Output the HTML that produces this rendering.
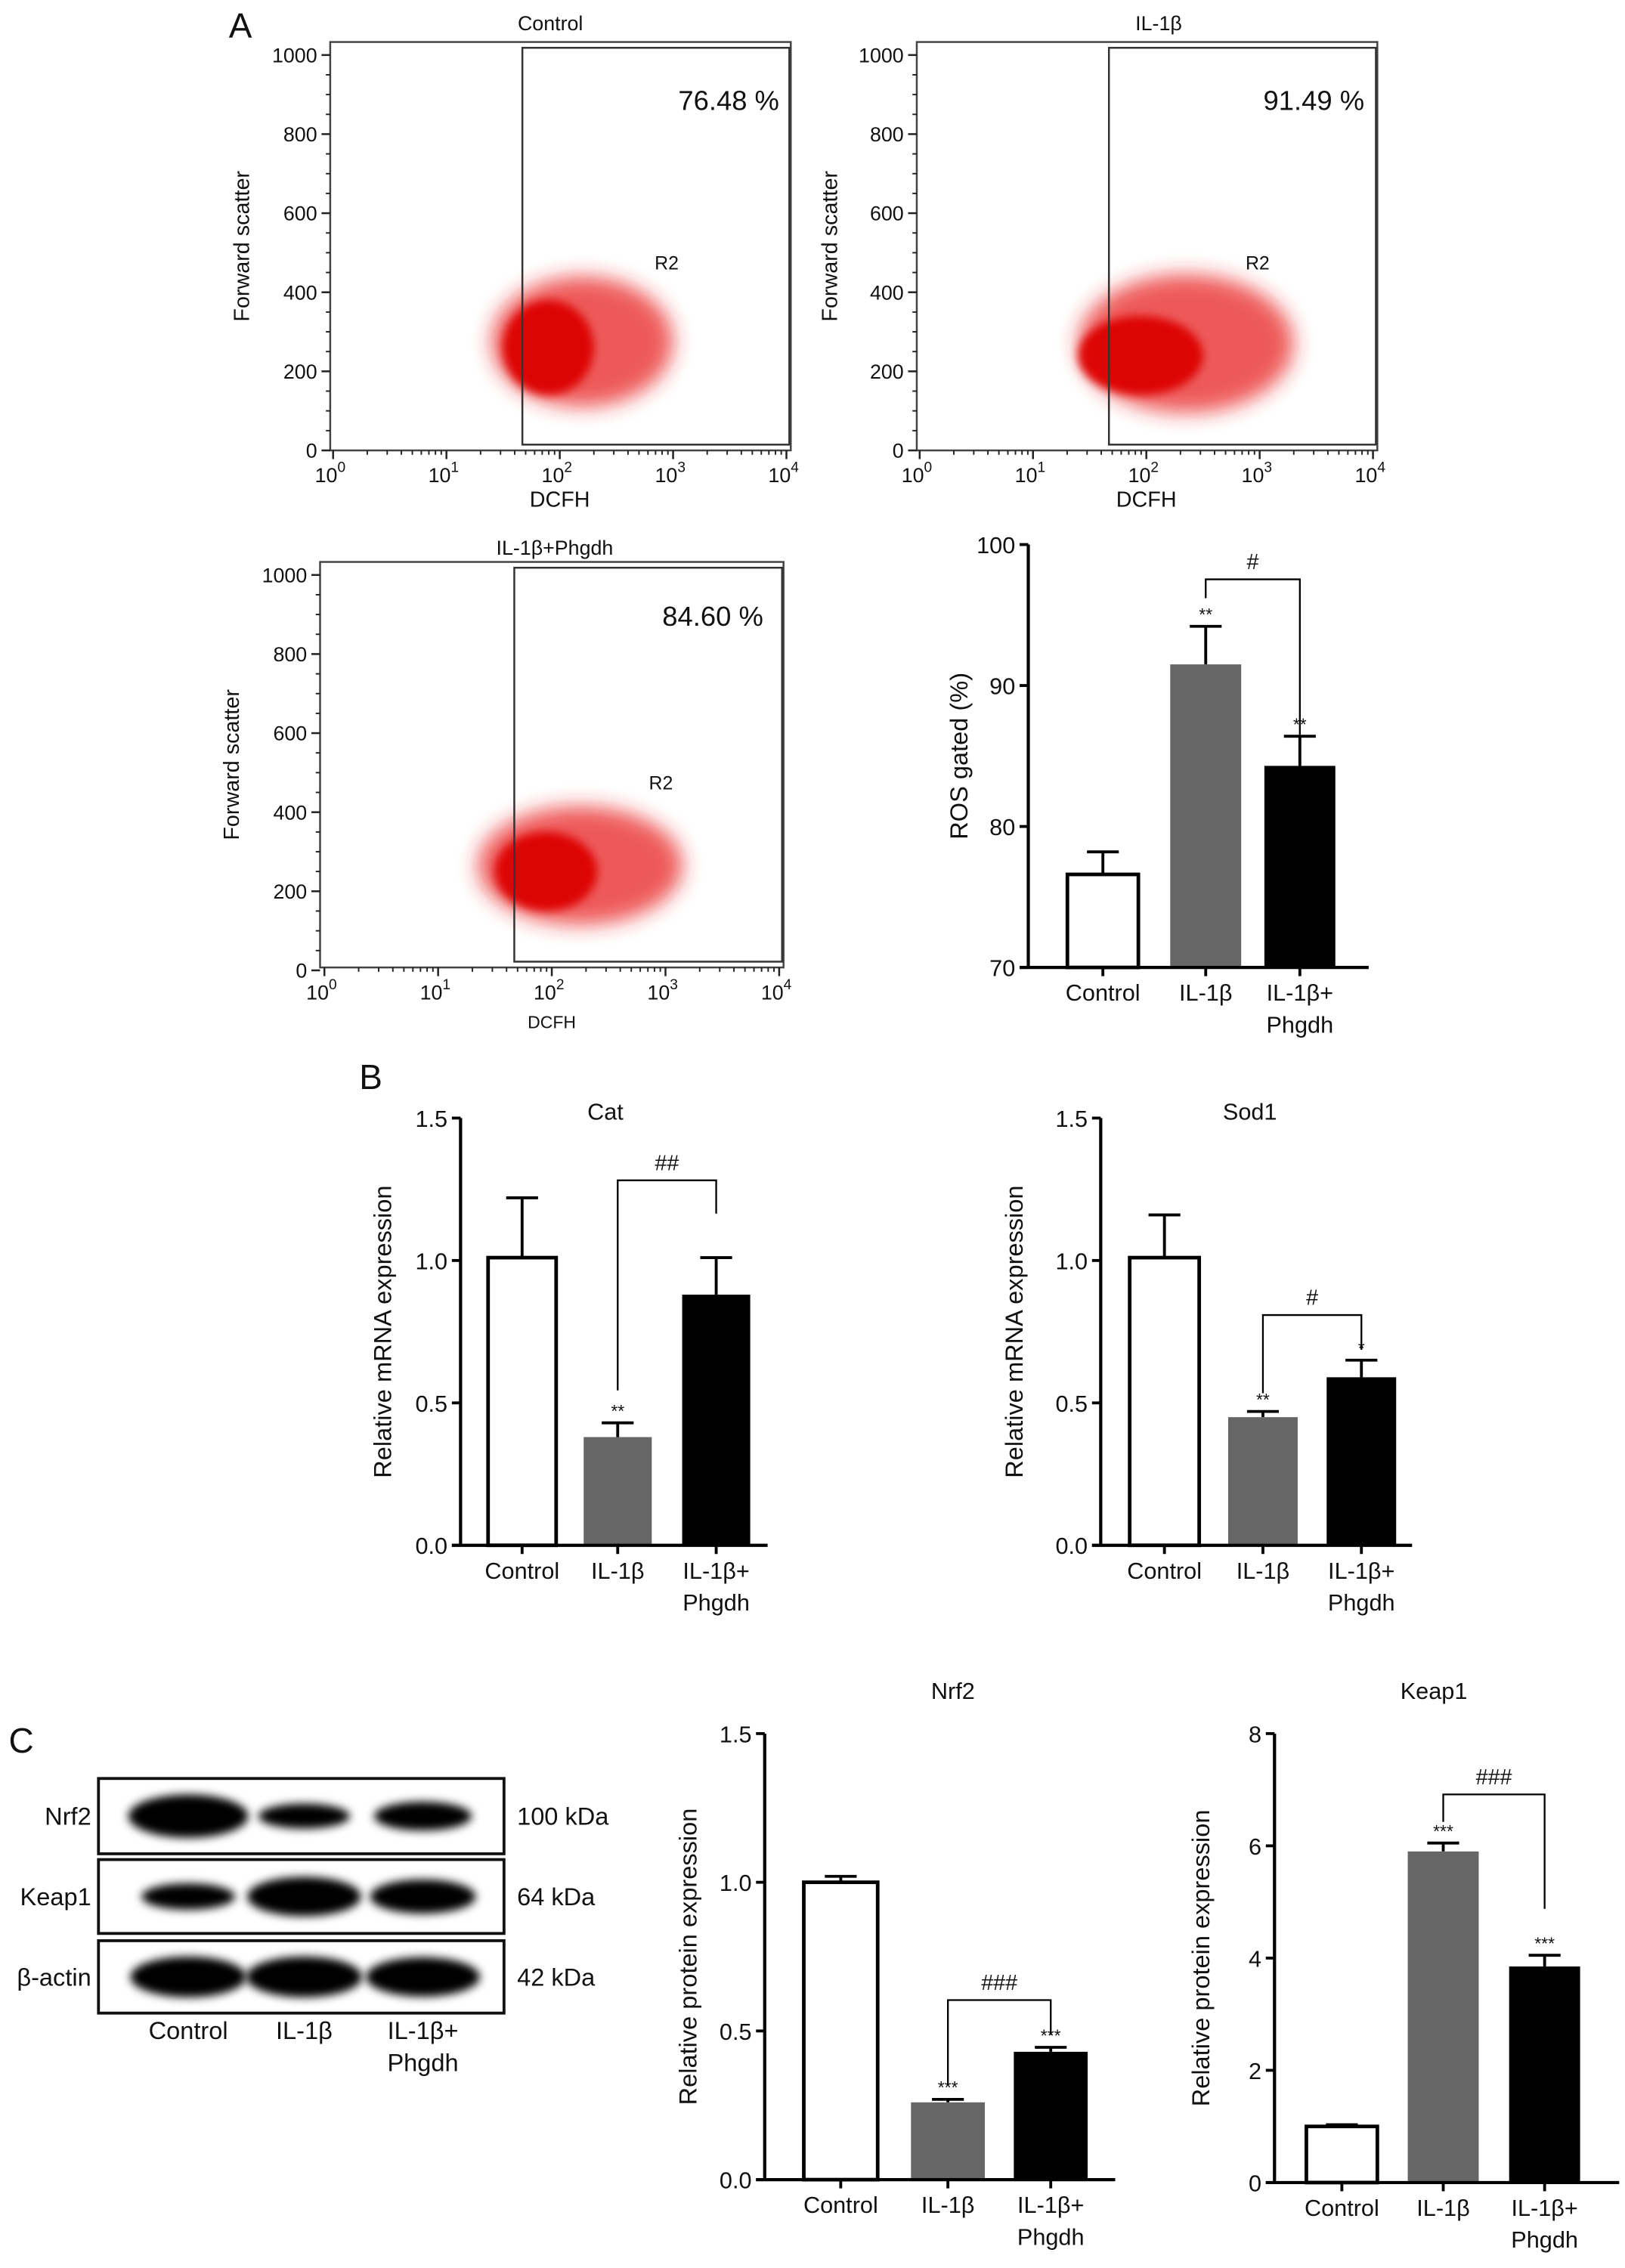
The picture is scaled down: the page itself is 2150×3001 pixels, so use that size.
<!DOCTYPE html>
<html><head><meta charset="utf-8"><style>
html,body{margin:0;padding:0;background:#fff}
svg{display:block}
text{font-family:"Liberation Sans","DejaVu Sans",sans-serif;fill:#111}
</style></head><body>
<svg id="fig" xmlns="http://www.w3.org/2000/svg" width="2150" height="3001" viewBox="0 0 1122 1566" preserveAspectRatio="none">
<defs>
<filter id="blur2" x="-50%" y="-50%" width="200%" height="200%"><feGaussianBlur stdDeviation="7"/></filter>
<filter id="blur1" x="-50%" y="-50%" width="200%" height="200%"><feGaussianBlur stdDeviation="3"/></filter>
</defs>
<g id="root"></g>
</svg>
<script>
// ---------- Flow cytometry panel data ----------
const flowTitles = ["Control", "IL-1β", "IL-1β+Phgdh"];
const flowPercents = ["76.48 %", "91.49 %", "84.60 %"];
const flowYTicks = [0, 200, 400, 600, 800, 1000];
const flowXExps = [0, 1, 2, 3, 4];
const flowGateLog = [1.67, 1.67, 1.67];
// cloud: [log10 center x, y center, log spread x, y spread]
const flowCloudCore = [[1.9, 260, 0.4, 120], [1.95, 240, 0.55, 100], [1.95, 250, 0.45, 100]];
const flowCloudWide = [[2.2, 275, 0.8, 165], [2.35, 270, 0.95, 175], [2.25, 265, 0.9, 150]];

// ---------- Bar chart data ----------
const groups = ["Control", "IL-1β", "IL-1β+"];
const rosValues = [76.6, 91.5, 84.3];
const rosErrors = [1.6, 2.7, 2.1];
const rosTicks = [70, 80, 90, 100];
const catValues = [1.01, 0.38, 0.88];
const catErrors = [0.21, 0.05, 0.13];
const sodValues = [1.01, 0.45, 0.59];
const sodErrors = [0.15, 0.02, 0.06];
const mrnaTicks = [0.0, 0.5, 1.0, 1.5];
const nrf2Values = [1.0, 0.26, 0.43];
const nrf2Errors = [0.02, 0.01, 0.015];
const keap1Values = [1.0, 5.9, 3.85];
const keap1Errors = [0.03, 0.15, 0.2];
const keap1Ticks = [0, 2, 4, 6, 8];
const rosStars = ["", "**", "**"];
const catStars = ["", "**", ""];
const sodStars = ["", "**", "*"];
const protStars = ["", "***", "***"];

const NS = "http://www.w3.org/2000/svg";
const root = document.getElementById("root");
function el(tag, attrs, parent, txt) {
  const e = document.createElementNS(NS, tag);
  for (const k in attrs) e.setAttribute(k, attrs[k]);
  if (txt !== undefined) e.textContent = txt;
  (parent || root).appendChild(e);
  return e;
}

// ---------- Flow plots ----------
const flowLayouts = [
  {fx0:228, fx1:546, fy0:29, fy1:311, ax0:230, ax1:543, ay0:311, ay1:38, titleY:16, titleX:380, yTitleX:172, dcfhY:350, dcfhSize:15, pctX:538, pctY:76, r2:[452,186]},
  {fx0:633, fx1:951, fy0:29, fy1:311, ax0:635, ax1:948, ay0:311, ay1:38, titleX:800, titleY:16, yTitleX:578, dcfhY:350, dcfhSize:15, pctX:942, pctY:76, r2:[860,186]},
  {fx0:221, fx1:541, fy0:388, fy1:668, ax0:224, ax1:538, ay0:670, ay1:397, titleX:383, titleY:378, yTitleX:165, dcfhY:710, dcfhSize:12, pctX:527, pctY:432, r2:[448,545]}
];
flowLayouts.forEach((L, i) => {
  const g = el("g", {});
  
  
  const sx = v => L.ax0 + (L.ax1 - L.ax0) * v / 4;
  const sy = v => L.ay0 + (L.ay1 - L.ay0) * v / 1000;
  el("rect", {x:L.fx0, y:L.fy0, width:L.fx1-L.fx0, height:L.fy1-L.fy0, fill:"#fff", stroke:"#444", "stroke-width":1.3}, g);
  const w = flowCloudWide[i], c = flowCloudCore[i];
  const wc = el("ellipse", {cx:sx(w[0]), cy:sy(w[1]), rx:(sx(w[2])-sx(0)), ry:Math.abs(sy(w[3])-sy(0)), fill:"#e82020", opacity:0.75, filter:"url(#blur2)"}, g);
  
  const cc = el("ellipse", {cx:sx(c[0]), cy:sy(c[1]), rx:(sx(c[2])-sx(0)), ry:Math.abs(sy(c[3])-sy(0)), fill:"#dd0000", opacity:0.95, filter:"url(#blur1)"}, g);
  
  const gx = sx(flowGateLog[i]);
  const gate = el("rect", {x:gx, y:L.fy0+4, width:L.fx1-1-gx, height:L.fy1-L.fy0-8, fill:"none", stroke:"#333", "stroke-width":1.3}, g);
  
  el("text", {x:L.r2[0], y:L.r2[1], "font-size":13, fill:"#555"}, g, "R2");
  const pt = el("text", {x:L.pctX, y:L.pctY, "font-size":19, "text-anchor":"end", fill:"#333"}, g, flowPercents[i]);
  
  const tt = el("text", {x:L.titleX, y:L.titleY+5, "font-size":14, "text-anchor":"middle"}, g, flowTitles[i]);
  
  flowYTicks.forEach(t => {
    el("line", {x1:L.fx0-6, x2:L.fx0, y1:sy(t), y2:sy(t), stroke:"#222", "stroke-width":1.3}, g);
    el("text", {x:L.fx0-9, y:sy(t)+5, "font-size":14, "text-anchor":"end"}, g, String(t));
  });
  for (let t = 50; t < 1000; t += 50) if (t % 200) el("line", {x1:L.fx0-3, x2:L.fx0, y1:sy(t), y2:sy(t), stroke:"#222", "stroke-width":1}, g);
  flowXExps.forEach(e => {
    el("line", {x1:sx(e), x2:sx(e), y1:L.fy1, y2:L.fy1+6, stroke:"#222", "stroke-width":1.3}, g);
    const tx = el("text", {x:sx(e)-2, y:L.fy1+22, "font-size":14, "text-anchor":"middle"}, g, "10");
    el("tspan", {dy:-7, "font-size":10}, tx, String(e));
    if (e < 4) for (let m = 2; m < 10; m++) {
      const xx = sx(e + Math.log10(m));
      el("line", {x1:xx, x2:xx, y1:L.fy1, y2:L.fy1+3, stroke:"#222", "stroke-width":1}, g);
    }
  });
  el("text", {x:(L.ax0+L.ax1)/2, y:L.dcfhY, "font-size":L.dcfhSize, "text-anchor":"middle"}, g, "DCFH");
  const cy = (L.fy0+L.fy1)/2;
  el("text", {x:L.yTitleX, y:cy, "font-size":15, "text-anchor":"middle", transform:`rotate(-90 ${L.yTitleX} ${cy})`}, g, "Forward scatter");
});

// ---------- Bar charts ----------
function barChart(o) {
  const g = el("g", {});
  
  
  const sy = v => o.y0 + (o.y1 - o.y0) * (v - o.min) / (o.max - o.min);
  const fills = ["#fff", "#666", "#000"];
  o.values.forEach((v, i) => {
    const bx = o.bars[i];
    const top = sy(v + o.errors[i]);
    el("line", {x1:bx+o.bw/2, x2:bx+o.bw/2, y1:sy(v), y2:top, stroke:"#000", "stroke-width":2}, g);
    el("line", {x1:bx+o.bw/2-11, x2:bx+o.bw/2+11, y1:top, y2:top, stroke:"#000", "stroke-width":2}, g);
    const r = el("rect", {x:bx, y:sy(v), width:o.bw, height:o.y0-sy(v), fill:fills[i], stroke:i==0?"#000":fills[i], "stroke-width":i==0?2.5:0}, g);
    
    if (o.stars[i]) el("text", {x:bx+o.bw/2, y:top-4, "font-size":12, "text-anchor":"middle"}, g, o.stars[i]);
    el("line", {x1:bx+o.bw/2, x2:bx+o.bw/2, y1:o.y0, y2:o.y0+6, stroke:"#000", "stroke-width":2}, g);
    const lx = bx + o.bw/2;
    el("text", {x:lx, y:o.y0+23, "font-size":o.fs, "text-anchor":"middle"}, g, groups[i]);
    if (i == 2) el("text", {x:lx, y:o.y0+45, "font-size":o.fs, "text-anchor":"middle"}, g, "Phgdh");
  });
  el("line", {x1:o.ax, x2:o.ax, y1:o.y1, y2:o.y0, stroke:"#000", "stroke-width":2.2}, g);
  el("line", {x1:o.ax-6, x2:o.xEnd, y1:o.y0, y2:o.y0, stroke:"#000", "stroke-width":2.2}, g);
  o.ticks.forEach(t => {
    el("line", {x1:o.ax-6, x2:o.ax, y1:sy(t), y2:sy(t), stroke:"#000", "stroke-width":2}, g);
    el("text", {x:o.ax-9, y:sy(t)+6, "font-size":o.fs, "text-anchor":"end"}, g, o.fmt(t));
  });
  const cy = (o.y0 + o.y1) / 2;
  el("text", {x:o.ytx, y:cy, "font-size":17, "text-anchor":"middle", transform:`rotate(-90 ${o.ytx} ${cy})`}, g, o.ytitle);
  if (o.title) el("text", {x:o.titleX, y:o.titleY, "font-size":o.fs, "text-anchor":"middle"}, g, o.title);
  const b = o.bracket;
  const xl = o.bars[1]+o.bw/2, xr = o.bars[2]+o.bw/2;
  const br = el("path", {d:`M${xl} ${b.yl} V${b.y} H${xr} V${b.yr}`, fill:"none", stroke:"#000", "stroke-width":1.2}, g);
  
  el("text", {x:(xl+xr)/2, y:b.y-7, "font-size":15, "text-anchor":"middle"}, g, b.label);
}
const f1 = t => t.toFixed(1), f0 = t => String(t);
barChart({name:"ros-chart", values:rosValues, errors:rosErrors, ticks:rosTicks, stars:rosStars, min:70, max:100, y0:668, y1:376, ax:710, xEnd:945, bars:[737,808,873], bw:49, fs:16, fmt:f0, ytx:668, ytitle:"ROS gated (%)", bracket:{y:400, yl:413, yr:510, label:"#"}});
barChart({name:"cat-chart", values:catValues, errors:catErrors, ticks:mrnaTicks, stars:catStars, min:0, max:1.5, y0:1067, y1:772, ax:318, xEnd:530, bars:[337,403,471], bw:47, fs:16, fmt:f1, ytx:270, ytitle:"Relative mRNA expression", title:"Cat", titleX:418, titleY:773, bracket:{y:815, yl:960, yr:838, label:"##"}});
barChart({name:"sod1-chart", values:sodValues, errors:sodErrors, ticks:mrnaTicks, stars:sodStars, min:0, max:1.5, y0:1067, y1:772, ax:760, xEnd:975, bars:[780,848,916], bw:48, fs:16, fmt:f1, ytx:706, ytitle:"Relative mRNA expression", title:"Sod1", titleX:863, titleY:773, bracket:{y:908, yl:962, yr:932, label:"#"}});
barChart({name:"nrf2-chart", values:nrf2Values, errors:nrf2Errors, ticks:mrnaTicks, stars:protStars, min:0, max:1.5, y0:1505, y1:1197, ax:528, xEnd:770, bars:[555,629,700], bw:51, fs:16, fmt:f1, ytx:481, ytitle:"Relative protein expression", title:"Nrf2", titleX:658, titleY:1173, bracket:{y:1381, yl:1440, yr:1405, label:"###"}});
barChart({name:"keap1-chart", values:keap1Values, errors:keap1Errors, ticks:keap1Ticks, stars:protStars, min:0, max:8, y0:1507, y1:1197, ax:880, xEnd:1118, bars:[902,972,1042], bw:49, fs:16, fmt:f0, ytx:835, ytitle:"Relative protein expression", title:"Keap1", titleX:990, titleY:1173, bracket:{y:1239, yl:1258, yr:1318, label:"###"}});

// ---------- Western blot ----------
const blotRows = ["Nrf2", "Keap1", "β-actin"];
const blotKda = ["100 kDa", "64 kDa", "42 kDa"];
const blotIntensity = [[1.1, 0.4, 0.55], [0.45, 0.95, 0.75], [1.0, 1.0, 0.95]];
const blotBoxes = [[1228,1280],[1284,1335],[1340,1390]];
const laneX = [130, 210, 292];
const wb = el("g", {});


blotRows.forEach((r, i) => {
  const [y0, y1] = blotBoxes[i];
  const box = el("rect", {x:68, y:y0, width:280, height:y1-y0, fill:"#fff", stroke:"#111", "stroke-width":2}, wb);
  
  const cy = (y0+y1)/2;
  laneX.forEach((lx, j) => {
    const s = blotIntensity[i][j];
    const band = el("ellipse", {cx:lx, cy:cy, rx:26 + 14*s, ry:5 + 9*s, fill:"#000", filter:"url(#blur1)"}, wb);
    
  });
  el("text", {x:63, y:cy+6, "font-size":17, "text-anchor":"end"}, wb, r);
  el("text", {x:357, y:cy+6, "font-size":17}, wb, blotKda[i]);
});
["Control","IL-1β","IL-1β+"].forEach((t, j) => el("text", {x:laneX[j], y:1408, "font-size":17, "text-anchor":"middle"}, wb, t));
el("text", {x:292, y:1430, "font-size":17, "text-anchor":"middle"}, wb, "Phgdh");

[["A",158,26],["B",248,752],["C",6,1210]].forEach(p => {
  const t = el("text", {x:p[1], y:p[2], "font-size":24}, root, p[0]);
  
  
});
</script>
</body></html>
